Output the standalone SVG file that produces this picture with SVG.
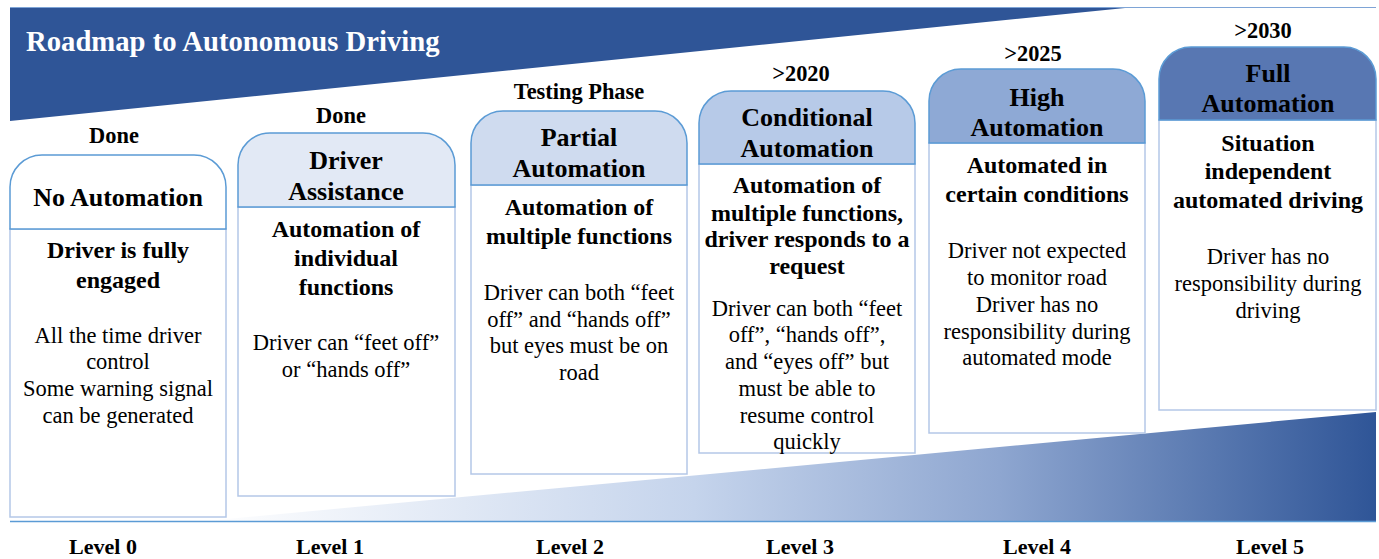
<svg xmlns="http://www.w3.org/2000/svg" width="1379" height="559" viewBox="0 0 1379 559" font-family="Liberation Serif">
<style>
text{text-anchor:middle;fill:#000}
.t{font-size:28.7px;font-weight:bold;fill:#fff;text-anchor:start}
.st{font-size:22.4px;font-weight:bold}
.hd{font-size:26px;font-weight:bold}
.bh{font-size:24px;font-weight:bold}
.bt{font-size:22.5px}
.lv{font-size:22px;font-weight:bold}
.hdr{stroke:#5b9bd5;stroke-width:1.5}
.body{fill:#fff;stroke:#b4c7e7;stroke-width:1.5}
</style>
<defs>
<linearGradient id="g" x1="200" y1="0" x2="1376" y2="0" gradientUnits="userSpaceOnUse">
<stop offset="0" stop-color="#ffffff"/>
<stop offset="0.42" stop-color="#c5d4ec"/>
<stop offset="0.68" stop-color="#8ea6d0"/>
<stop offset="1" stop-color="#2f5597"/>
</linearGradient>
</defs>
<g id="background" font-family="Liberation Serif">
<line x1="10" y1="7.5" x2="1376" y2="7.5" stroke="#7ea4d6" stroke-width="1"/>
<polygon points="10,8 1125,8 10,121" fill="#2f5597"/>
<text class="t" x="26" y="51">Roadmap to Autonomous Driving</text>
<polygon points="205,521 1376,412 1376,521" fill="url(#g)"/>
<line x1="10" y1="521.5" x2="1376" y2="521.5" stroke="#5b9bd5" stroke-width="1.5"/>
</g>
<g id="connectors"></g>
<g id="level0" font-family="Liberation Serif">
<text class="st" x="114" y="143">Done</text>
<rect class="body" x="10" y="229" width="216" height="288"/>
<path class="hdr" fill="#ffffff" d="M10,229 V187 A32,32 0 0 1 42,155 H194 A32,32 0 0 1 226,187 V229 Z"/>
<text class="hd" x="118" y="206">No Automation</text>
<text class="bh" x="118" y="258">Driver is fully</text>
<text class="bh" x="118" y="288">engaged</text>
<text class="bt" x="118" y="343">All the time driver</text>
<text class="bt" x="118" y="369">control</text>
<text class="bt" x="118" y="396">Some warning signal</text>
<text class="bt" x="118" y="423">can be generated</text>
<text class="lv" x="103" y="554">Level 0</text>
</g>
<g id="level1" font-family="Liberation Serif">
<text class="st" x="341" y="123">Done</text>
<rect class="body" x="238" y="207" width="217" height="289"/>
<path class="hdr" fill="#e2e9f5" d="M238,207 V165 A32,32 0 0 1 270,133 H423 A32,32 0 0 1 455,165 V207 Z"/>
<text class="hd" x="346" y="169">Driver</text>
<text class="hd" x="346" y="200">Assistance</text>
<text class="bh" x="346" y="237">Automation of</text>
<text class="bh" x="346" y="266">individual</text>
<text class="bh" x="346" y="295">functions</text>
<text class="bt" x="346" y="350">Driver can “feet off”</text>
<text class="bt" x="346" y="377">or “hands off”</text>
<text class="lv" x="330" y="554">Level 1</text>
</g>
<g id="level2" font-family="Liberation Serif">
<text class="st" x="579" y="99">Testing Phase</text>
<rect class="body" x="471" y="185" width="216" height="289"/>
<path class="hdr" fill="#cfdbef" d="M471,185 V143 A32,32 0 0 1 503,111 H655 A32,32 0 0 1 687,143 V185 Z"/>
<text class="hd" x="579" y="146">Partial</text>
<text class="hd" x="579" y="177">Automation</text>
<text class="bh" x="579" y="215">Automation of</text>
<text class="bh" x="579" y="244">multiple functions</text>
<text class="bt" x="579" y="300">Driver can both “feet</text>
<text class="bt" x="579" y="327">off” and “hands off”</text>
<text class="bt" x="579" y="353">but eyes must be on</text>
<text class="bt" x="579" y="380">road</text>
<text class="lv" x="570" y="554">Level 2</text>
</g>
<g id="level3" font-family="Liberation Serif">
<text class="st" x="801" y="81">&gt;2020</text>
<rect class="body" x="699" y="164" width="216" height="289"/>
<path class="hdr" fill="#b7cae8" d="M699,164 V123 A32,32 0 0 1 731,91 H883 A32,32 0 0 1 915,123 V164 Z"/>
<text class="hd" x="807" y="126">Conditional</text>
<text class="hd" x="807" y="157">Automation</text>
<text class="bh" x="807" y="193">Automation of</text>
<text class="bh" x="807" y="221">multiple functions,</text>
<text class="bh" x="807" y="247">driver responds to a</text>
<text class="bh" x="807" y="274">request</text>
<text class="bt" x="807" y="316">Driver can both “feet</text>
<text class="bt" x="807" y="342">off”, “hands off”,</text>
<text class="bt" x="807" y="369">and “eyes off” but</text>
<text class="bt" x="807" y="396">must be able to</text>
<text class="bt" x="807" y="423">resume control</text>
<text class="bt" x="807" y="449">quickly</text>
<text class="lv" x="800" y="554">Level 3</text>
</g>
<g id="level4" font-family="Liberation Serif">
<text class="st" x="1033" y="61">&gt;2025</text>
<rect class="body" x="929" y="143" width="216" height="290"/>
<path class="hdr" fill="#8ea9d5" d="M929,143 V101 A32,32 0 0 1 961,69 H1113 A32,32 0 0 1 1145,101 V143 Z"/>
<text class="hd" x="1037" y="106">High</text>
<text class="hd" x="1037" y="136">Automation</text>
<text class="bh" x="1037" y="173">Automated in</text>
<text class="bh" x="1037" y="202">certain conditions</text>
<text class="bt" x="1037" y="258">Driver not expected</text>
<text class="bt" x="1037" y="285">to monitor road</text>
<text class="bt" x="1037" y="312">Driver has no</text>
<text class="bt" x="1037" y="339">responsibility during</text>
<text class="bt" x="1037" y="365">automated mode</text>
<text class="lv" x="1037" y="554">Level 4</text>
</g>
<g id="level5" font-family="Liberation Serif">
<text class="st" x="1263" y="38">&gt;2030</text>
<rect class="body" x="1159" y="120" width="217" height="290"/>
<path class="hdr" fill="#5877b2" d="M1159,120 V79 A32,32 0 0 1 1191,47 H1344 A32,32 0 0 1 1376,79 V120 Z"/>
<text class="hd" x="1268" y="82">Full</text>
<text class="hd" x="1268" y="112">Automation</text>
<text class="bh" x="1268" y="151">Situation</text>
<text class="bh" x="1268" y="179">independent</text>
<text class="bh" x="1268" y="208">automated driving</text>
<text class="bt" x="1268" y="264">Driver has no</text>
<text class="bt" x="1268" y="291">responsibility during</text>
<text class="bt" x="1268" y="318">driving</text>
<text class="lv" x="1270" y="554">Level 5</text>
</g>
</svg>
